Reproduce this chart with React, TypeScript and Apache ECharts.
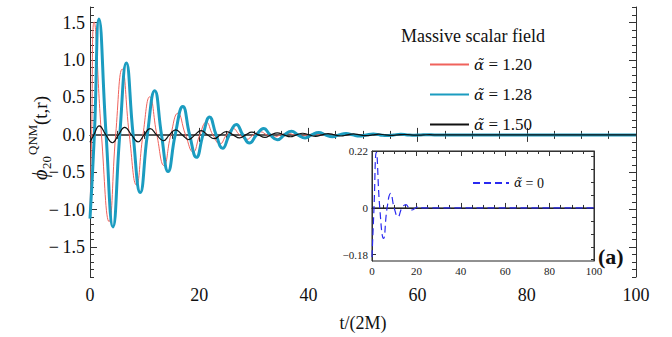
import React, { useEffect, useRef } from "react";
import * as echarts from "echarts";

const FONT = "'Liberation Serif', 'Times New Roman', serif";
const GREEK = "'DejaVu Serif', 'Liberation Serif', serif";

// ---- data (t, value) ----
const alpha120: [number, number][] = [
  [0, -1.05], [0.3, 0], [0.75, 1.51], [2.1, 0], [3.5, -1.16], [4.7, 0], [5.9, 0.88], [7.2, 0],
  [8.5, -0.67], [9.7, 0], [10.95, 0.51], [12.25, 0], [13.55, -0.41], [14.8, 0], [16.1, 0.29],
  [17.5, 0], [18.9, -0.23], [20.1, 0], [21.3, 0.17], [22.5, 0], [23.8, -0.12], [25.0, 0],
  [26.2, 0.085], [27.4, 0], [28.7, -0.06], [29.9, 0], [31.2, 0.042], [32.4, 0], [33.7, -0.03],
  [34.9, 0], [36.2, 0.021], [37.4, 0], [38.7, -0.015], [39.9, 0], [41.2, 0.01], [42.4, 0],
  [43.7, -0.007], [44.9, 0], [46.2, 0.005], [47.4, 0], [100, 0],
];

const alpha128: [number, number][] = [
  [0, -1.12], [0.8, 0], [1.65, 1.55], [2.95, 0], [4.2, -1.23], [5.45, 0], [6.65, 0.96], [7.9, 0],
  [9.2, -0.77], [10.5, 0], [11.85, 0.59], [13.1, 0], [14.3, -0.49], [15.6, 0], [17.0, 0.38],
  [18.25, 0], [19.5, -0.3], [20.7, 0], [21.9, 0.24], [23.1, 0], [24.3, -0.18], [25.5, 0],
  [26.8, 0.14], [28.0, 0], [29.2, -0.11], [30.5, 0], [31.8, 0.085], [33.0, 0], [34.3, -0.066],
  [35.6, 0], [36.9, 0.05], [38.1, 0], [39.4, -0.04], [40.6, 0], [41.9, 0.032], [43.1, 0],
  [44.4, -0.026], [45.6, 0], [46.9, 0.02], [48.1, 0], [49.4, -0.016], [50.6, 0], [51.9, 0.012],
  [53.1, 0], [54.4, -0.009], [55.6, 0], [56.9, 0.007], [58.1, 0], [59.4, -0.005], [60.6, 0],
  [61.9, 0.003], [63.1, 0], [100, 0],
];

const alpha150: [number, number][] = [
  [0, -0.1], [0.7, 0], [1.7, 0.12], [2.9, 0], [4.1, -0.105], [5.2, 0], [6.35, 0.1], [7.6, 0],
  [8.8, -0.092], [9.9, 0], [11.0, 0.083], [12.2, 0], [13.45, -0.078], [14.55, 0], [15.7, 0.068],
  [16.9, 0], [18.1, -0.062], [19.2, 0], [20.35, 0.056], [21.55, 0], [22.75, -0.05], [23.85, 0],
  [25.0, 0.045], [26.2, 0], [27.4, -0.04], [28.5, 0], [29.65, 0.036], [30.85, 0], [32.05, -0.032],
  [33.15, 0], [34.3, 0.028], [35.5, 0], [36.7, -0.025], [37.8, 0], [38.95, 0.022], [40.15, 0],
  [41.35, -0.02], [42.45, 0], [43.6, 0.018], [44.8, 0], [46.0, -0.015], [47.1, 0], [48.25, 0.013],
  [49.45, 0], [50.65, -0.011], [51.75, 0], [52.9, 0.009], [54.1, 0], [55.3, -0.007], [56.4, 0],
  [57.55, 0.005], [58.75, 0], [60.0, -0.004], [61.1, 0], [62.2, 0.003], [63.4, 0], [100, 0],
];

const alpha0: [number, number][] = [
  [0, -0.19], [0.9, 0], [1.95, 0.215], [3.5, 0], [5.2, -0.118], [6.8, 0], [8.4, 0.056], [10.0, 0],
  [11.7, -0.034], [13.5, 0], [15.3, 0.013], [16.6, 0], [18.0, -0.008], [19.6, 0], [21.3, 0.005],
  [23, 0], [100, 0],
];

const zeroLine: [number, number][] = [[0, 0], [100, 0]];

// ---- labels / ticks ----
const SERIES_NAMES = ["α̃ = 1.20", "α̃ = 1.28", "α̃ = 1.50"];
const INSET_NAME = "α̃ = 0";
const LEGEND_TITLE = "Massive scalar field";
const X_LABEL = "t/(2M)";
const PANEL_TAG = "(a)";

const MAIN_X_MAJOR = [0, 20, 40, 60, 80, 100];
const MAIN_Y_MAJOR = [-1.5, -1.0, -0.5, 0, 0.5, 1.0, 1.5];
const MAIN_Y_MIN = -1.9;
const MAIN_Y_MAX = 1.71;
const INSET_X_MAJOR = [0, 20, 40, 60, 80, 100];
const INSET_Y_LABELS = [-0.18, 0, 0.22];
const INSET_Y_MIN = -0.205;
const INSET_Y_MAX = 0.22;

function range(a: number, b: number, step: number) {
  const out: number[] = [];
  for (let v = a; v <= b + 1e-9; v += step) out.push(Math.round(v * 1000) / 1000);
  return out;
}

const MAIN_X_MINOR = range(0, 100, 5);
const MAIN_Y_MINOR = range(-1.9, 1.7, 0.1);
const INSET_X_MINOR = range(0, 100, 5);
const INSET_Y_MINOR = range(-0.2, 0.2, 0.05);

const AX = "#333";

function xAx(grid: number, pos: string, ticks: number[], len: number, opts: any = {}) {
  return {
    type: "value",
    gridIndex: grid,
    position: pos,
    min: 0,
    max: 100,
    splitLine: { show: false },
    axisLine: { show: opts.line ?? false, lineStyle: { color: AX, width: 1 } },
    axisTick: { show: true, inside: true, length: len, customValues: ticks, lineStyle: { color: AX, width: 1 } },
    axisLabel: opts.label ?? { show: false },
    ...(opts.extra || {}),
  };
}

function yAx(grid: number, pos: string, min: number, max: number, ticks: number[], len: number, opts: any = {}) {
  return {
    type: "value",
    gridIndex: grid,
    position: pos,
    min,
    max,
    splitLine: { show: false },
    axisLine: { show: opts.line ?? false, onZero: false, lineStyle: { color: AX, width: 1 } },
    axisTick: { show: true, inside: true, length: len, customValues: ticks, lineStyle: { color: AX, width: 1 } },
    axisLabel: opts.label ?? { show: false },
  };
}

const fmtMain = (v: number) => (v < 0 ? "−\u2009" : "") + Math.abs(v).toFixed(1);
const fmtInset = (v: number) => (v === 0 ? "0" : (v < 0 ? "−" : "") + String(Math.abs(v)));

export default function App() {
  const ref = useRef<HTMLDivElement>(null);
  useEffect(() => {
    if (!ref.current) return;
    const chart = echarts.init(ref.current, null, { renderer: "svg" });
    const mkRich = (size: number) => ({
      i: { fontFamily: GREEK, fontStyle: "italic", fontSize: size - 2, color: "#111" },
      n: { fontFamily: FONT, fontSize: size, color: "#111" },
    });
    const legendFmt = (name: string) => `{i|α̃}{n| ${name.slice(name.indexOf("="))}}`;
    chart.setOption({
      animation: false,
      backgroundColor: "#fff",
      grid: [
        { left: 90, top: 7, width: 546, height: 272, show: false },
        { left: 372, top: 151, width: 222, height: 110, show: true, backgroundColor: "#fff", borderColor: "#222", borderWidth: 1 },
      ],
      xAxis: [
        xAx(0, "bottom", MAIN_X_MAJOR, 7, {
          line: true,
          label: { show: true, customValues: MAIN_X_MAJOR, fontFamily: FONT, fontSize: 18, color: "#111", margin: 9 },
          extra: {
            name: X_LABEL,
            nameLocation: "middle",
            nameGap: 37,
            nameTextStyle: { fontFamily: FONT, fontSize: 18, color: "#111" },
          },
        }),
        xAx(0, "bottom", MAIN_X_MINOR, 4),
        xAx(0, "top", MAIN_X_MAJOR, 7, { line: true }),
        xAx(0, "top", MAIN_X_MINOR, 4),
        xAx(1, "bottom", INSET_X_MAJOR, 5, {
          line: true,
          label: { show: true, customValues: INSET_X_MAJOR, fontFamily: FONT, fontSize: 11, color: "#222", margin: 4 },
        }),
        xAx(1, "bottom", INSET_X_MINOR, 3),
        xAx(1, "top", INSET_X_MAJOR, 5, { line: true }),
        xAx(1, "top", INSET_X_MINOR, 3),
      ],
      yAxis: [
        yAx(0, "left", MAIN_Y_MIN, MAIN_Y_MAX, MAIN_Y_MAJOR, 7, {
          line: true,
          label: { show: true, customValues: MAIN_Y_MAJOR, formatter: fmtMain, fontFamily: FONT, fontSize: 18, color: "#111", margin: 5 },
        }),
        yAx(0, "left", MAIN_Y_MIN, MAIN_Y_MAX, MAIN_Y_MINOR, 4),
        yAx(0, "right", MAIN_Y_MIN, MAIN_Y_MAX, MAIN_Y_MAJOR, 7, { line: true }),
        yAx(0, "right", MAIN_Y_MIN, MAIN_Y_MAX, MAIN_Y_MINOR, 4),
        yAx(1, "left", INSET_Y_MIN, INSET_Y_MAX, INSET_Y_LABELS, 4, {
          line: true,
          label: { show: true, customValues: INSET_Y_LABELS, formatter: fmtInset, fontFamily: FONT, fontSize: 11, color: "#222", margin: 4 },
        }),
        yAx(1, "right", INSET_Y_MIN, INSET_Y_MAX, INSET_Y_MINOR, 3, { line: true }),
      ],
      legend: [
        {
          data: SERIES_NAMES,
          orient: "vertical",
          left: 424,
          top: 51,
          itemWidth: 39,
          itemHeight: 14,
          itemGap: 13,
          selectedMode: false,
          itemStyle: { opacity: 0 },
          formatter: legendFmt,
          textStyle: { fontFamily: FONT, fontSize: 17, color: "#111", rich: mkRich(17) },
        },
        {
          data: [INSET_NAME],
          orient: "vertical",
          left: 467,
          top: 171,
          itemWidth: 36,
          itemHeight: 14,
          selectedMode: false,
          itemStyle: { opacity: 0 },
          formatter: legendFmt,
          textStyle: { fontFamily: FONT, fontSize: 14, color: "#111", rich: mkRich(14) },
        },
      ],
      series: [
        {
          type: "line", name: "zero", xAxisIndex: 0, yAxisIndex: 0, data: zeroLine, showSymbol: false, symbol: "none",
          lineStyle: { color: "#5a5a5a", width: 2 }, z: 1, silent: true,
        },
        {
          type: "line", name: SERIES_NAMES[0], xAxisIndex: 0, yAxisIndex: 0, data: alpha120, smooth: 0.5, symbol: "none",
          lineStyle: { color: "#f0625c", width: 1 }, itemStyle: { color: "#f0625c" }, z: 2,
        },
        {
          type: "line", name: SERIES_NAMES[1], xAxisIndex: 0, yAxisIndex: 0, data: alpha128, smooth: 0.5, symbol: "none",
          lineStyle: { color: "#1b9cc0", width: 3 }, itemStyle: { color: "#1b9cc0" }, z: 3,
        },
        {
          type: "line", name: SERIES_NAMES[2], xAxisIndex: 0, yAxisIndex: 0, data: alpha150, smooth: 0.5, symbol: "none",
          lineStyle: { color: "#111", width: 1.2 }, itemStyle: { color: "#111" }, z: 4,
        },
        {
          type: "line", name: "zeroInset", xAxisIndex: 4, yAxisIndex: 4, data: zeroLine, symbol: "none",
          lineStyle: { color: "#111", width: 1 }, z: 5, silent: true,
        },
        {
          type: "line", name: INSET_NAME, xAxisIndex: 4, yAxisIndex: 4, data: alpha0, smooth: 0.5, symbol: "none",
          lineStyle: { color: "#2a2af0", width: 1.2, type: [7, 4] }, itemStyle: { color: "#2a2af0" }, z: 6,
        },
      ],
      graphic: [
        {
          type: "text", left: 401, top: 27,
          style: { text: LEGEND_TITLE, fontFamily: FONT, fontSize: 18, fill: "#111" },
        },
        {
          type: "text", left: 598, top: 245,
          style: { text: PANEL_TAG, fontFamily: FONT, fontSize: 22, fontWeight: "bold", fill: "#111" },
        },
        {
          type: "group",
          x: 40,
          y: 180,
          rotation: Math.PI / 2,
          children: [
            { type: "text", x: 0, y: 0, style: { text: "ϕ", fontFamily: FONT, fontStyle: "italic", fontSize: 20, fill: "#111", verticalAlign: "middle" } },
            { type: "text", x: 11, y: 6, style: { text: "20", fontFamily: FONT, fontSize: 13, fill: "#111", verticalAlign: "middle" } },
            { type: "text", x: 25, y: -8, style: { text: "QNM", fontFamily: FONT, fontSize: 13, fill: "#111", verticalAlign: "middle" } },
            { type: "text", x: 55, y: 0, style: { text: "(t,r)", fontFamily: FONT, fontSize: 19, fill: "#111", verticalAlign: "middle" } },
          ],
        },
      ],
    });
    return () => chart.dispose();
  }, []);
  return <div ref={ref} style={{ width: 672, height: 337, position: "absolute", left: 0, top: 0 }} />;
}
